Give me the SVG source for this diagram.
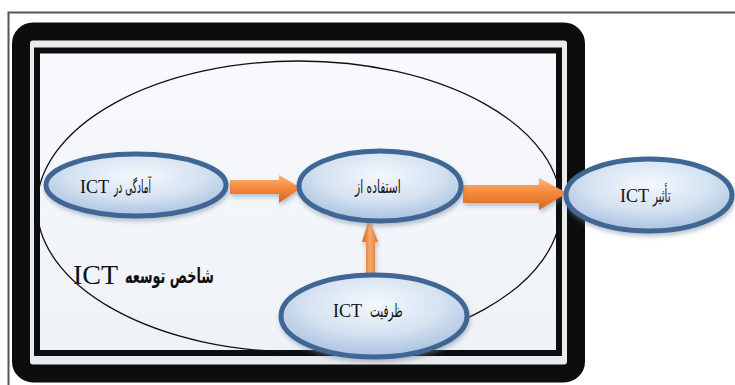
<svg xmlns="http://www.w3.org/2000/svg" width="735" height="385" viewBox="0 0 735 385">
  <defs>
    <radialGradient id="nodeFill" cx="50%" cy="35%" r="65%">
      <stop offset="0" stop-color="#f4f8fd"/>
      <stop offset="0.55" stop-color="#d6e3f2"/>
      <stop offset="1" stop-color="#a9c1df"/>
    </radialGradient>
    <linearGradient id="arrowH" x1="0" y1="0" x2="0" y2="1">
      <stop offset="0" stop-color="#f9b57a"/>
      <stop offset="0.45" stop-color="#f58a3c"/>
      <stop offset="1" stop-color="#d8661e"/>
    </linearGradient>
    <linearGradient id="arrowV" x1="0" y1="0" x2="1" y2="0">
      <stop offset="0" stop-color="#d8661e"/>
      <stop offset="0.5" stop-color="#f9a866"/>
      <stop offset="1" stop-color="#e0742a"/>
    </linearGradient>
    <linearGradient id="bgFill" x1="0" y1="0" x2="0" y2="1">
      <stop offset="0" stop-color="#f8fafc"/>
      <stop offset="1" stop-color="#eef2f7"/>
    </linearGradient>
    <filter id="shadow" x="-20%" y="-20%" width="140%" height="150%">
      <feDropShadow dx="1" dy="3" stdDeviation="2" flood-color="#6b7f99" flood-opacity="0.45"/>
    </filter>
  </defs>
  <style>
    .node { fill: url(#nodeFill); stroke: #3f6694; stroke-width: 5; filter: url(#shadow); }
    .lat { font-family: "Liberation Serif", serif; font-size: 18px; fill: #111; }
    .big { font-size: 28px; }
    .fa { font-family: "DejaVu Sans", "Liberation Serif", sans-serif; font-size: 18px; fill: #111; text-anchor: start; }
    .fab { font-size: 21px; font-weight: bold; }
    .arrowH { fill: url(#arrowH); filter: url(#shadow); }
    .arrowV { fill: url(#arrowV); filter: url(#shadow); }
  </style>

  <rect x="0" y="0" width="735" height="385" fill="#ffffff"/>
  <path d="M8.5 385 V12.5 H735" fill="none" stroke="#555" stroke-width="2"/>

  <g id="frame">
    <rect x="21" y="31.5" width="555" height="342" rx="12" fill="#e9ecef" stroke="#0d0d0d" stroke-width="18"/>
    <rect x="37" y="50.5" width="522" height="302.5" fill="url(#bgFill)" stroke="#0d0d0d" stroke-width="6"/>
  </g>

  <g id="ict-development">
    <ellipse cx="299" cy="206.5" rx="262" ry="145.5" fill="none" stroke="#111" stroke-width="1.3"/>
  </g>

  <g id="connectors">
    <polygon class="arrowH" points="230,180 279,180 279,175 301,188 279,203 279,194 230,194"/>
    <polygon class="arrowH" points="463,185 539,185 539,178 567,193 539,210 539,203 463,203"/>
    <polygon class="arrowV" points="366,275 366,242 362,242 369,218 378,242 375,242 375,275"/>
  </g>

  <g id="node-readiness">
    <ellipse class="node" cx="136" cy="185" rx="90" ry="31"/>
    <text class="lat" x="80" y="193">ICT</text>
    <text class="fa" transform="translate(114 193) scale(0.5 1)">آمادگی در</text>
  </g>

  <g id="node-use">
    <ellipse class="node" cx="380" cy="186" rx="81" ry="35"/>
    <text class="fa" transform="translate(355 193) scale(0.595 1)">استفاده از</text>
  </g>

  <g id="node-impact">
    <ellipse class="node" cx="649" cy="195" rx="83" ry="36"/>
    <text class="lat" x="620" y="202">ICT</text>
    <text class="fa" transform="translate(653 202) scale(0.567 1)">تأثیر</text>
  </g>

  <g id="node-capacity">
    <ellipse class="node" cx="374" cy="316" rx="93" ry="41"/>
    <text class="lat" x="333" y="317">ICT</text>
    <text class="fa" transform="translate(370 317) scale(0.585 1)">ظرفیت</text>
  </g>

  <g id="label-ict-dev">
    <text class="lat big" x="73" y="284">ICT</text>
    <text class="fa fab" transform="translate(125 283) scale(0.61 1)">شاخص توسعه</text>
  </g>
</svg>
